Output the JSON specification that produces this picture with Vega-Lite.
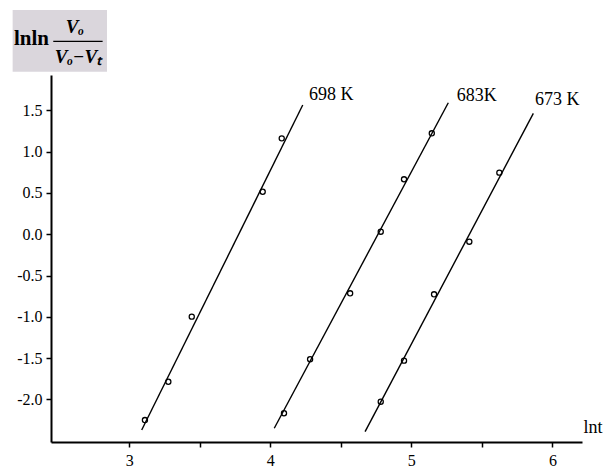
{
  "$schema": "https://vega.github.io/schema/vega-lite/v6.json",
  "width": 531,
  "height": 367,
  "autosize": {"type": "none"},
  "padding": {"left": 51, "top": 75, "right": 23, "bottom": 25},
  "background": "white",
  "config": {"view": {"stroke": null}, "font": "Liberation Serif"},
  "data": {
    "values": [
      {"series": "698 K", "kind": "point", "x": 3.111, "y": -2.25},
      {"series": "698 K", "kind": "point", "x": 3.277, "y": -1.786},
      {"series": "698 K", "kind": "point", "x": 3.443, "y": -0.998},
      {"series": "698 K", "kind": "point", "x": 3.946, "y": 0.515},
      {"series": "698 K", "kind": "point", "x": 4.081, "y": 1.162},
      {"series": "698 K", "kind": "line", "x": 3.088, "y": -2.371},
      {"series": "698 K", "kind": "line", "x": 4.23, "y": 1.565},
      {"series": "698 K", "kind": "label", "x": 4.274, "y": 1.686, "text": "698 K"},
      {"series": "683K", "kind": "point", "x": 4.097, "y": -2.168},
      {"series": "683K", "kind": "point", "x": 4.282, "y": -1.514},
      {"series": "683K", "kind": "point", "x": 4.566, "y": -0.715},
      {"series": "683K", "kind": "point", "x": 4.783, "y": 0.031},
      {"series": "683K", "kind": "point", "x": 4.948, "y": 0.666},
      {"series": "683K", "kind": "point", "x": 5.145, "y": 1.223},
      {"series": "683K", "kind": "line", "x": 4.028, "y": -2.35},
      {"series": "683K", "kind": "line", "x": 5.262, "y": 1.593},
      {"series": "683K", "kind": "label", "x": 5.322, "y": 1.674, "text": "683K"},
      {"series": "673 K", "kind": "point", "x": 4.783, "y": -2.028},
      {"series": "673 K", "kind": "point", "x": 4.948, "y": -1.531},
      {"series": "673 K", "kind": "point", "x": 5.161, "y": -0.727},
      {"series": "673 K", "kind": "point", "x": 5.411, "y": -0.09},
      {"series": "673 K", "kind": "point", "x": 5.624, "y": 0.746},
      {"series": "673 K", "kind": "line", "x": 4.672, "y": -2.391},
      {"series": "673 K", "kind": "line", "x": 5.865, "y": 1.465},
      {"series": "673 K", "kind": "label", "x": 5.877, "y": 1.626, "text": "673 K"}
    ]
  },
  "layer": [
    {
      "transform": [{"filter": "datum.kind === 'line'"}],
      "mark": {"type": "line", "color": "black", "strokeWidth": 1.4},
      "encoding": {
        "x": {"field": "x", "type": "quantitative", "scale": {"domain": [2.445, 6.21], "nice": false, "zero": false},
          "axis": {
            "values": [3, 3.5, 4, 4.5, 5, 5.5, 6],
            "labelExpr": "datum.value % 1 === 0 ? format(datum.value, 'd') : ''",
            "grid": false, "domainColor": "black", "domainWidth": 2, "tickColor": "black", "tickWidth": 1.5, "tickSize": 5,
            "labelFont": "Liberation Serif", "labelFontSize": 16, "labelColor": "black", "labelPadding": 5, "labelFlush": false,
            "title": "lnt", "titleFont": "Liberation Serif", "titleFontSize": 18, "titleFontWeight": "normal", "titleColor": "black",
            "titleX": 532, "titleY": -15, "titleAlign": "left", "titleBaseline": "middle", "titleAngle": 0
          }
        },
        "y": {"field": "y", "type": "quantitative", "scale": {"domain": [-2.516, 1.929], "nice": false, "zero": false},
          "axis": {
            "values": [-2, -1.5, -1, -0.5, 0, 0.5, 1, 1.5],
            "labelExpr": "replace(format(datum.value, '.1f'), '\u2212', '-')",
            "grid": false, "domainColor": "black", "domainWidth": 2, "tickColor": "black", "tickWidth": 1.5, "tickSize": 5,
            "labelFont": "Liberation Serif", "labelFontSize": 16, "labelColor": "black", "labelPadding": 4, "labelFlush": false,
            "title": null
          }
        },
        "detail": {"field": "series"}
      }
    },
    {
      "transform": [{"filter": "datum.kind === 'point'"}],
      "mark": {"type": "point", "shape": "circle", "filled": false, "stroke": "black", "strokeWidth": 1.3, "size": 26, "opacity": 1},
      "encoding": {
        "x": {"field": "x", "type": "quantitative"},
        "y": {"field": "y", "type": "quantitative"}
      }
    },
    {
      "transform": [{"filter": "datum.kind === 'label'"}],
      "mark": {"type": "text", "align": "left", "baseline": "middle", "fontSize": 18, "color": "black", "font": "Liberation Serif"},
      "encoding": {
        "x": {"field": "x", "type": "quantitative"},
        "y": {"field": "y", "type": "quantitative"},
        "text": {"field": "text"}
      }
    },
    {
      "data": {"values": [{}]},
      "mark": {"type": "rect", "fill": "#dad6dc", "clip": false},
      "encoding": {
        "x": {"datum": 2.173, "type": "quantitative"},
        "x2": {"datum": 2.842},
        "y": {"datum": 2.716, "type": "quantitative"},
        "y2": {"datum": 1.969}
      }
    },
    {
      "data": {"values": [{}]},
      "mark": {"type": "text", "text": "lnln", "align": "left", "baseline": "middle", "fontSize": 21, "fontWeight": "bold", "clip": false},
      "encoding": {
        "x": {"datum": 2.182, "type": "quantitative"},
        "y": {"datum": 2.365, "type": "quantitative"}
      }
    },
    {
      "data": {"values": [{}]},
      "mark": {"type": "rule", "color": "black", "strokeWidth": 1.3, "clip": false},
      "encoding": {
        "x": {"datum": 2.461, "type": "quantitative"},
        "x2": {"datum": 2.811},
        "y": {"datum": 2.337, "type": "quantitative"}
      }
    },
    {
      "data": {"values": [{}]},
      "mark": {"type": "text", "text": "Vₒ", "align": "center", "baseline": "middle", "fontSize": 19, "fontWeight": "bold", "fontStyle": "italic", "clip": false},
      "encoding": {
        "x": {"datum": 2.615, "type": "quantitative"},
        "y": {"datum": 2.51, "type": "quantitative"}
      }
    },
    {
      "data": {"values": [{}]},
      "mark": {"type": "text", "text": "Vₒ−Vₜ", "align": "center", "baseline": "middle", "fontSize": 19, "fontWeight": "bold", "fontStyle": "italic", "clip": false},
      "encoding": {
        "x": {"datum": 2.636, "type": "quantitative"},
        "y": {"datum": 2.147, "type": "quantitative"}
      }
    }
  ]
}
